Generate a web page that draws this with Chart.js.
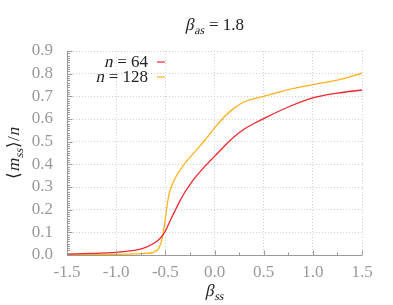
<!DOCTYPE html>
<html><head><meta charset="utf-8">
<script src="https://cdn.jsdelivr.net/npm/chart.js@4/dist/chart.umd.min.js"></script>
<style>html,body{margin:0;padding:0;background:#fff}#wrap{width:393px;height:305px}</style>
</head><body><div id="wrap"><canvas id="c" width="393" height="305"></canvas></div>
<script>
const beta64 = [-1.5,-1.25,-1.0,-0.9,-0.8,-0.7,-0.6,-0.55,-0.5,-0.45,-0.4,-0.35,-0.3,-0.25,-0.2,-0.1,0.0,0.1,0.2,0.3,0.4,0.5,0.75,1.0,1.25,1.5];
const m64 = [0.004,0.007,0.012,0.016,0.022,0.034,0.056,0.075,0.105,0.152,0.197,0.24,0.278,0.31,0.34,0.39,0.435,0.48,0.522,0.555,0.58,0.602,0.653,0.693,0.714,0.728];
const beta128 = [-1.5,-1.25,-1.0,-0.8,-0.7,-0.62,-0.58,-0.56,-0.54,-0.52,-0.5,-0.48,-0.46,-0.44,-0.41,-0.35,-0.3,-0.2,-0.1,0.0,0.1,0.2,0.3,0.4,0.5,0.75,1.0,1.25,1.5];
const m128 = [0.001,0.002,0.003,0.005,0.007,0.012,0.022,0.035,0.06,0.1,0.16,0.225,0.272,0.3,0.33,0.375,0.405,0.455,0.505,0.56,0.61,0.648,0.675,0.69,0.70,0.73,0.752,0.772,0.802];
const xTicks = [-1.5,-1.0,-0.5,0.0,0.5,1.0,1.5];
const yTicks = [0.0,0.1,0.2,0.3,0.4,0.5,0.6,0.7,0.8,0.9];
const seriesNames = ['64','128'];
const titleValue = '1.8';

const RED = '#f0282d', ORANGE = '#ffb21c';
const SERIF = '"Liberation Serif"';

function drawMath(ctx, parts, x, y, align, size) {
  const subSize = Math.round(size * 0.72);
  const fontOf = p => (p.sub ? subSize : size) + 'px ' + SERIF;
  let w = 0;
  parts.forEach(p => { ctx.font = fontOf(p); p.w = ctx.measureText(p.t).width + (p.it ? 0.5 : 0); w += p.w; });
  let cx = align === 'right' ? x - w : align === 'center' ? x - w / 2 : x;
  ctx.textBaseline = 'alphabetic';
  ctx.textAlign = 'left';
  parts.forEach(p => {
    ctx.font = fontOf(p);
    const yy = y + (p.sub ? size * 0.25 : 0);
    if (p.it) {
      ctx.save();
      ctx.translate(cx, yy);
      ctx.transform(1, 0, -0.22, 1, 0, 0);
      ctx.fillText(p.t, 0, 0);
      ctx.restore();
    } else {
      ctx.fillText(p.t, cx, yy);
    }
    cx += p.w;
  });
}

const decor = {
  id: 'decor',
  afterDraw(chart) {
    const ctx = chart.ctx, xs = chart.scales.x, ys = chart.scales.y, a = chart.chartArea;
    ctx.save();
    ctx.strokeStyle = '#9a9a9a';
    ctx.lineWidth = 1;
    ctx.setLineDash([]);
    ctx.beginPath();
    const L = Math.round(a.left) + 0.5, B = Math.round(a.bottom) + 0.5;
    ctx.moveTo(L, a.top); ctx.lineTo(L, B); ctx.lineTo(a.right, B);
    for (let i = 0; i <= 90; i++) {
      const py = Math.round(ys.getPixelForValue(i / 100)) + 0.5;
      const len = i % 10 === 0 ? 5 : 2.5;
      ctx.moveTo(L, py); ctx.lineTo(L + len, py);
    }
    for (let i = -6; i <= 6; i++) {
      const px = Math.round(xs.getPixelForValue(i * 0.25)) + 0.5;
      const len = i % 2 === 0 ? 5 : 3;
      ctx.moveTo(px, B); ctx.lineTo(px, B - len);
    }
    ctx.stroke();
    ctx.fillStyle = '#222';
    drawMath(ctx, [{t:'β', it:true},{t:'as', it:true, sub:true},{t:' = ' + titleValue}], (a.left + a.right) / 2, 30, 'center', 17);
    drawMath(ctx, [{t:'β', it:true},{t:'ss', it:true, sub:true}], (a.left + a.right) / 2, 296, 'center', 17);
    ctx.save();
    ctx.translate(19, (a.top + a.bottom) / 2);
    ctx.rotate(-Math.PI / 2);
    drawMath(ctx, [{t:'⟨'},{t:'m', it:true},{t:'ss', it:true, sub:true},{t:'⟩/'},{t:'n', it:true}], 0, 0, 'center', 17);
    ctx.restore();
    const cols = [RED, ORANGE];
    seriesNames.forEach((s, i) => {
      const y = 67 + i * 15;
      ctx.fillStyle = '#222';
      drawMath(ctx, [{t:'n', it:true},{t:' = ' + s}], 148, y, 'right', 17);
      ctx.strokeStyle = cols[i];
      ctx.lineWidth = 1.2;
      ctx.beginPath();
      ctx.moveTo(157, y - 5); ctx.lineTo(165, y - 5);
      ctx.stroke();
    });
    ctx.restore();
  }
};

const toPts = (xs, ys) => xs.map((v, i) => ({x: v, y: ys[i]}));

new Chart(document.getElementById('c'), {
  type: 'line',
  data: {
    datasets: [
      {label: 'n = ' + seriesNames[0], data: toPts(beta64, m64), borderColor: RED, borderWidth: 1.3, pointRadius: 0, cubicInterpolationMode: 'monotone', fill: false},
      {label: 'n = ' + seriesNames[1], data: toPts(beta128, m128), borderColor: ORANGE, borderWidth: 1.3, pointRadius: 0, cubicInterpolationMode: 'monotone', fill: false}
    ]
  },
  options: {
    responsive: false,
    animation: false,
    layout: {padding: {left: 0, right: 31, top: 51, bottom: 0}},
    plugins: {legend: {display: false}, title: {display: false}, tooltip: {enabled: false}},
    scales: {
      x: {
        type: 'linear', min: -1.5, max: 1.5,
        afterBuildTicks: s => { s.ticks = xTicks.map(v => ({value: v})); },
        afterFit: s => { s.height = 50; },
        ticks: {padding: 7, color: '#999', font: {family: SERIF, size: 17}, callback: v => v.toFixed(1), maxRotation: 0, autoSkip: false},
        grid: {color: '#d0d0d0', drawTicks: false, lineWidth: 1},
        border: {display: false, dash: [1, 2]}
      },
      y: {
        type: 'linear', min: 0, max: 0.9,
        afterBuildTicks: s => { s.ticks = yTicks.map(v => ({value: v})); },
        afterFit: s => { s.width = 67; },
        ticks: {padding: 14, color: '#999', font: {family: SERIF, size: 17}, callback: v => v.toFixed(1), autoSkip: false},
        grid: {color: '#d0d0d0', drawTicks: false, lineWidth: 1},
        border: {display: false, dash: [1, 2]}
      }
    }
  },
  plugins: [decor]
});
</script></body></html>
